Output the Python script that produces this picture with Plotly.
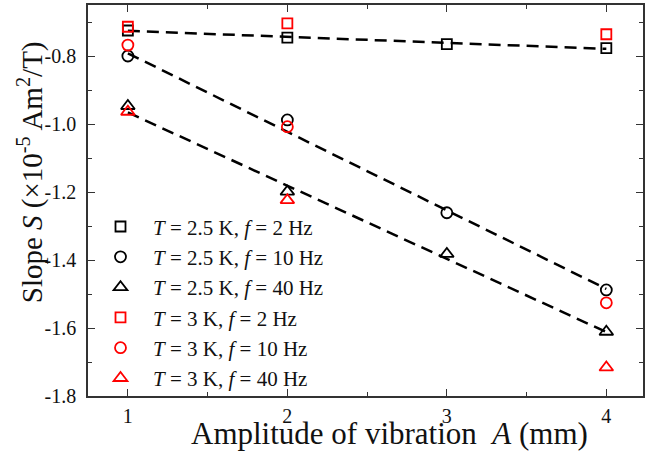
import plotly.graph_objects as go

amp = [1, 2, 3, 4]
# T = 2.5 K
s25_f2 = [-0.725, -0.746, -0.765, -0.777]
s25_f10 = [-0.800, -0.988, -1.261, -1.488]
s25_f40 = [-0.947, -1.199, -1.382, -1.611]
# T = 3 K
s3_f2 = [-0.714, -0.704, None, -0.736]
s3_f10 = [-0.768, -1.008, None, -1.526]
s3_f40 = [-0.964, -1.224, None, -1.716]

fit_x = [1, 4]
fit_f2 = [-0.726, -0.779]
fit_f10 = [-0.792, -1.485]
fit_f40 = [-0.966, -1.612]

xticks = [1, 2, 3, 4]
yticks = [-1.8, -1.6, -1.4, -1.2, -1.0, -0.8]
ytick_text = ["-1.8", "-1.6", "-1.4", "-1.2", "-1.0", "-0.8"]

FONT = "Liberation Serif"
TXT = "#111"
fig = go.Figure()

for fy in (fit_f2, fit_f10, fit_f40):
    fig.add_trace(go.Scatter(x=fit_x, y=fy, mode="lines", showlegend=False,
                             line=dict(color="black", width=2.5, dash="12px,7px")))

series = [
    (s25_f2, "square-open", "black", "<i>T</i> = 2.5 K, <i>f</i> = 2 Hz", 10),
    (s25_f10, "circle-open", "black", "<i>T</i> = 2.5 K, <i>f</i> = 10 Hz", 11),
    (s25_f40, "triangle-up-open", "black", "<i>T</i> = 2.5 K, <i>f</i> = 40 Hz", 12),
    (s3_f2, "square-open", "red", "<i>T</i> = 3 K, <i>f</i> = 2 Hz", 10),
    (s3_f10, "circle-open", "red", "<i>T</i> = 3 K, <i>f</i> = 10 Hz", 11),
    (s3_f40, "triangle-up-open", "red", "<i>T</i> = 3 K, <i>f</i> = 40 Hz", 12),
]
for ys, sym, col, name, sz in series:
    fig.add_trace(go.Scatter(x=amp, y=ys, mode="markers", name=name,
                             marker=dict(symbol=sym, size=sz, color=col,
                                         line=dict(color=col, width=1.8))))

axis_common = dict(showline=True, linecolor="#333", linewidth=1.5, mirror="ticks",
                   ticks="inside", ticklen=7, tickwidth=1.3, tickcolor="#333",
                   showgrid=False, zeroline=False,
                   tickfont=dict(family=FONT, size=20, color=TXT))

fig.update_xaxes(range=[0.75, 4.23], tickvals=xticks,
                 minor=dict(ticks="inside", ticklen=4, tickwidth=1.2, tickcolor="#333", dtick=0.5),
                 ticklabelstandoff=1,
                 **axis_common)
fig.update_yaxes(range=[-1.8, -0.65], tickvals=yticks, ticktext=ytick_text,
                 minor=dict(ticks="inside", ticklen=4, tickwidth=1.2, tickcolor="#333", dtick=0.1),
                 ticklabelstandoff=6,
                 **axis_common)

fig.add_annotation(text="Amplitude of vibration  <i>A</i> (mm)", xref="paper", yref="paper",
                   x=(391 - 88) / (645 - 88), y=-(433 - 396) / (396 - 5),
                   xanchor="center", yanchor="middle", showarrow=False,
                   font=dict(family=FONT, size=31, color=TXT))
fig.add_annotation(text="Slope <i>S</i> (×10<sup>-5</sup> Am<sup>2</sup>/T)", xref="paper", yref="paper",
                   x=-(88 - 30) / (645 - 88), y=(396 - 172) / (396 - 5),
                   xanchor="center", yanchor="middle", showarrow=False, textangle=-90,
                   font=dict(family=FONT, size=29, color=TXT))

fig.update_layout(
    width=646, height=459,
    margin=dict(l=88, r=1, t=5, b=63),
    plot_bgcolor="white", paper_bgcolor="white",
    legend=dict(x=0.0, y=0.485, xanchor="left", yanchor="top",
                bgcolor="rgba(0,0,0,0)", font=dict(family=FONT, size=21, color=TXT),
                itemwidth=55, tracegroupgap=0),
)

fig.write_html("out.html", config={"displayModeBar": False},
               post_script="document.body.style.margin='0';")
